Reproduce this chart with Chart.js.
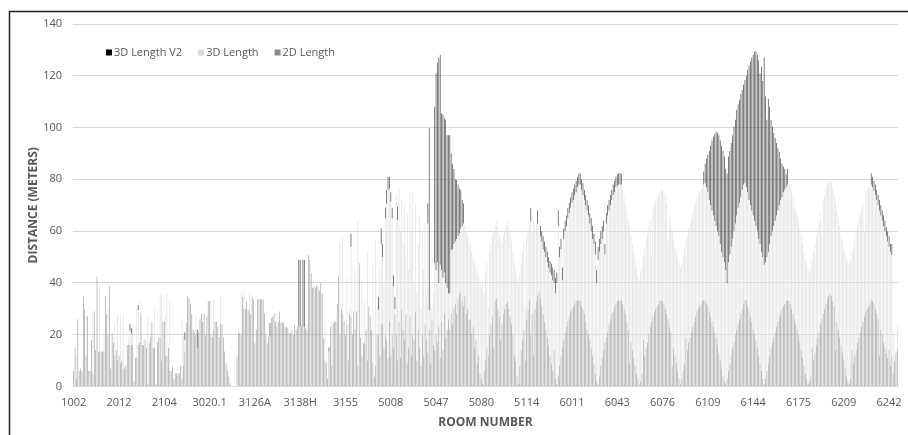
<!DOCTYPE html>
<html>
<head>
<meta charset="utf-8">
<script src="https://cdn.jsdelivr.net/npm/chart.js@4.4.1/dist/chart.umd.min.js"></script>
<style>
  html, body { margin: 0; padding: 0; background: #fff; }
  #wrap { width: 908px; height: 435px; }
</style>
</head>
<body>
<div id="wrap"><canvas id="chart" width="908" height="435"></canvas></div>
<script>
const _ = null;

// Room numbers printed under the axis (one every 33 rooms)
const roomTicks = ['1002','2012','2104','3020.1','3126A','3138H','3155','5008','5047','5080',
                   '5114','6011','6043','6076','6109','6144','6175','6209','6242'];
const tickEvery = 33;

// 2D Length per room (m), one line per 33 rooms
const length2D = [
  6,15,3,26,6,7,6,35,30,12,27,6,6,18,5,29,14,42.5,13.5,13.5,13.5,13.5,13.5,35,28,20,38.6,7,20.6,17,12,14,10,
  12,9,10,7,7,8,16,16,16,16,16,2,11,11,16,17,28,16,16,18,15,1,17,19,25,15,15,1,17,19,19,10,25,
  25,12,12,15,6,6,8,3,5,5,5,5,8,3,8,13.5,24.5,35,34,32,28,22,21,20,15,21,26,28,25,28,20,27,33,
  33,20,19,22,25,25,23,19,24,24,19,13.5,9,6.4,4,1.3,0,0,0,0,11.6,21,20.6,20,34.7,30,30,32.8,29.6,29,28,34.7,33.5,
  16.7,22,33.7,33.7,33.7,33.7,33.7,28.3,20,16.7,19,19,26.4,27,28.3,25,23,25,29,24.5,25,24.5,23,23,22.5,20.6,20.6,21.8,20,23.8,22,23.2,23.2,
  23.2,23,23,23,22.5,22,50.8,48.9,43.8,38,38.6,38,39,38.6,37,40,36,18.7,10,9,3,13.5,23,8,24.5,25,25,32,42.5,20,30,28,25,
  20,24,10,28,27,20,29,22,29,8,47.6,19,12,16.7,16.7,21.8,10,31,27,21.8,9,3.8,8,20,20,12,24,24.4,15,20,18,11,25,
  12,20,15,28,20,10,25,11,30,22,18,28,9,15,27,12,20,18,29,10,22,15,8,20,12,24,18,13,22,9,26,16,14,
  20,17,23,11,25,14,28,19,22,26,22,28,24,30,32,28,34,36,36.6,33,31,35,28,30,25.7,26,20.5,23,15,18,9,12,5,
  3,1,6,10,15,12,20,24,27,15,33,34,30,27,18,24,28,30,32,32.8,30,27,24,20,12,10,4,1,8,14,18,22,10,
  26,30,33.4,20,28,12,30,33,35,36.6,34,31,28,25,22,19,16,12,9,6,14,3,1,4,8,12,15,18,21,23,25,27,29,
  30,31,32,33,33,33.4,33,31,30,28,25,22,20,18,15,12,9,5,2,1,4,8,11,14,17,19,21,24,26,28,29,31,32,
  33,33.4,33,33.4,32,30,28,25,22,9,17,14,11,8,5,3,1,2,5,18,12,15,17,20,23,25,27,29,30,31,32,33,33.4,
  33,32,30,28,26,23,21,8,15,12,9,6,3,1,3,6,9,19,14,17,19,21,23,25,27,29,30,31,32,33,33.4,33,32,
  31,29,27,25,23,21,19,16,13,10,7,4,2,1,3,6,9,12,15,17,20,22,24,26,28,30,32,33.4,33,31,29,27,25,
  22,20,18,15,12,9,6,3,1,3,6,9,12,15,17,19,21,23,25,27,28,30,31,32,33,33.4,33,32,30,28,26,24,22,
  20,17,14,11,8,5,3,1,2,4,15,10,13,16,19,21,24,26,28,30,32,34,35,36,35,33,31,14,25,22,19,16,13,
  10,7,4,2,1,3,14,9,12,14,17,19,21,23,25,27,29,30,31,32,33.4,33,32,30,28,26,12,22,20,17,15,13,11,
  14,8,12,5,10,13,15
];

// 3D Length per room (m)
const length3D = [
  6,15,12,26,6,7,6,35,30,27,27,6,6,18,29,29,14,42.5,13.5,39,13.5,13.5,22,35,28,30,38.6,7,20.6,17,24,14,27.7,
  12,27,10,28,7,8,16,19,21.5,20.5,24.5,2,11,30,29.5,17,33,16,16,18,15,27,17,19,25,15,30,1,17,19,35,36,25,
  25,28,36,15,33,6,8,3,5,5,5,5,8,26,20.5,18,24.5,35,34,32,28,22,21,27,15,21,26,28,25,28,20,27,33,
  33,33,19,33,25,25,23,19,35,24,19,13.5,9,6.4,4,1.3,0,0,0,0,11.6,21,20.6,36.7,34.7,36.7,30,32.8,29.6,36,28,34.7,33.5,
  16.7,22,33.7,33.7,33.7,33.7,33.7,28.3,20,16.7,19,19,26.4,27,28.3,25,28.3,25,29,24.5,25,24.5,23,23,22.5,20.6,20.6,21.8,20,23.8,22,23.2,23.2,
  23.2,24,23,23,22.5,24,50.8,48.9,43.8,38,38.6,38,39,38.6,37,40,36,18.7,23,10,3,13.5,23,24,24.5,25,25,32,42.5,55.3,30,58,25,
  20,43,24,30,54,20,29,45,29,64,47.6,19,40,16.7,33,21.8,52,31,27,21.8,48,3.8,56,31,29.6,45,55,50,40,65,70.7,76,76.5,
  71.4,65,38.6,30,74,64.3,76.5,60,72,55,70,50,67,45,74.6,60,74.6,40,70,36,55,66,30,60,45,63,35,63,29.5,40,30,36,47.6,
  45,48,40,47,45,42,44,40,38,36,36,52.7,53,55,56,57,58,59,61,62,63,62,60,58,56,55,52,50,48,46,44,42,40,
  38,40,36,44,48,30,52,55,58,60,62,64,62,59,56,55,58,60,62,64,62,59,56,52,48,45,42,40,44,48,52,55,30,
  58,61,63,63.7,60,64,62,63,63,64,58,56,53,52,50,48,46,44,43,41,40,36,40,62,50,53,41,57,60,62,65,67,69,
  71,72,74,75,77,78,78,76,74,72,70,68,66,63,60,57,55,51,40,49,52,55,57,60,51,63,66,68,70,72,74,75,77,
  77.5,78,78,78,76,73,70,67,64,62,58,55,52,49,46,43,41,44,46,50,53,56,59,62,64,50,68,70,72,73,74,75,76,
  76,75,73,71,56,65,62,60,57,54,52,50,48,46,47,50,53,56,58,61,63,65,67,69,71,73,74,75,76,77,78,78.5,77,
  75,72,70,68,66,64,62,60,58,55,52,50,48,45,40,48,51,54,57,60,63,66,69,71,73,76,78,78.5,77,75,72,70,68,
  66,64,62,60,57,55,52,50,47,48,50,52,55,58,60,62,64,66,68,70,72,73,75,76,77,78,78,77,75,73,70,68,66,
  64,61,58,55,52,49,47,45,43.7,46,49,52,55,58,61,64,67,58,72,74,76,78,79,79.8,79,77,74,71,68,65,62,59,56,
  53,51,49,48,47.6,49,52,54,57,60,62,65,67,69,71,60,75,76,77,78,78,77,75.5,74,72,70,68,66,64,62,60,58,56,
  54,52,50.8,20,12,14,24
];

// 3D Length V2 per room (m), only where it was measured
const length3DV2 = [
  _,_,_,_,_,_,_,_,_,_, _,_,_,_,_,_,_,_,_,_, _,_,_,_,_,_,_,_,_,_, _,_,_,
  _,_,_,_,_,_,_,_,24,22.5, _,_,_,_,31.5,_,_,_,_,_, _,_,_,_,_,_,_,_,_,_, _,_,_,
  _,_,_,_,_,_,_,_,_,_, _,_,_,_,_,21,_,_,_,_, _,_,_,_,22,_,_,_,_,_, _,_,_,
  _,_,_,_,_,_,_,_,_,_, _,_,_,_,_,_,_,_,_,_, _,_,_,_,_,_,_,_,_,_, _,_,_,
  _,_,_,_,_,_,_,_,_,_, _,24.5,_,_,_,_,_,_,_,_, _,_,_,_,_,_,_,_,_,_, _,_,49,
  49,_,49,49,_,_,_,_,_,_, _,_,_,_,_,_,_,_,_,_, _,15.2,_,_,_,_,_,_,_,_, _,_,_,
  _,_,_,_,59,_,_,_,_,_, _,_,_,_,_,_,_,_,_,_, _,_,_,_,34.7,_,61,55,_,69, 76,81,81,
  75,69,43,34.7,_,69.5,_,_,_,_, _,_,_,_,_,_,_,_,_,_, _,_,_,_,_,_,_,70.7,99.7,_, _,_,108,
  121,125,127,128,105.5,105,103.6,103,97,97, 97,90,86,84,80,79.8,78,76.5,76,72, 70.7,_,_,_,_,_,_,_,_,_, _,_,_,
  _,_,_,_,_,_,_,_,_,_, _,_,_,_,_,_,_,_,_,_, _,_,_,_,_,_,_,_,_,_, _,_,_,
  _,_,_,68.8,_,_,_,_,68,_, 62,60,58,56,54,52,50,48.5,47.5,46, 45,42,44,68,54,57,46,61,64,66, 69,71,73,
  75,76.5,78,79.5,81,82.3,82.3,80,78.5,76, 74,72,70,67,65,62,59,56,45,54, 57,60,62,64,55,67,70,72,74,76, 78,79.5,81,
  82,82.3,82.5,82,_,_,_,_,_,_, _,_,_,_,_,_,_,_,_,_, _,_,_,_,_,_,_,_,_,_, _,_,_,
  _,_,_,_,_,_,_,_,_,_, _,_,_,_,_,_,_,_,_,_, _,_,_,_,_,_,_,_,_,_, 83,86,88,
  89.4,91,93,95,96.5,97.5,98.4,98,97,95, 93,91,88.8,84,82.3,88.8,91,94,97,100.4, 103,106.8,109,110.7,113,114.5,116.5,118.4,120,122.3, 124,125.5,127,
  128,129.3,129.5,128,126,121,123.5,118,127,112, 103,111,108,103,100.4,98,96,94,92,90.7, 88,86,85,84,82,84,_,_,_,_, _,_,_,
  _,_,_,_,_,_,_,_,_,_, _,_,_,_,_,_,_,_,_,_, _,_,_,_,_,_,_,_,_,_, _,_,_,
  _,_,_,_,_,_,_,_,_,_, _,_,_,_,_,_,_,_,_,_, 82.3,81,79.5,78,76,74,72,70,68,66, 64,61.5,60,
  58,55,55,_,_,_,_
];

const seriesNames  = ['3D Length V2', '3D Length', '2D Length'];
// Column fills (hairline columns) and the solid legend swatches
const seriesColors = ['#474747', '#e0e0e0', '#a3a3a3'];
const swatchColors = ['#000000', '#d9d9d9', '#8c8c8c'];
const textColor = '#595959';
const uiFont = 'Open Sans';

// Category labels: room number shown every `tickEvery` rooms, blank otherwise
const rooms = length2D.map((v, i) => (i % tickEvery === 0 ? (roomTicks[i / tickEvery] || '') : ''));

// Each longer measure is drawn as the part rising above the shorter one,
// so the three columns of a room sit one above the other without overlap.
const span3D = length3D.map((v, i) => (v == null ? null : [length2D[i] || 0, v]));
const spanV2 = length3DV2.map((v, i) => (v == null ? null : [length3D[i] || 0, v]));

// Chart frame (top/left rule) and the in-plot legend row
const frameAndLegend = {
  id: 'frameAndLegend',
  afterDraw(chart) {
    const c = chart.ctx;
    c.save();
    c.strokeStyle = '#1f1f1f';
    c.lineWidth = 1.5;
    c.beginPath();
    c.moveTo(9.5, 435);
    c.lineTo(9.5, 11.5);
    c.lineTo(908, 11.5);
    c.stroke();

    c.font = '11px "' + uiFont + '"';
    c.textBaseline = 'middle';
    c.textAlign = 'left';
    let x = 106;
    const y = 52.5;
    chart.data.datasets.forEach((ds, k) => {
      c.fillStyle = swatchColors[k];
      c.fillRect(x, y - 3, 6, 6);
      x += 8;
      c.fillStyle = textColor;
      c.fillText(ds.label, x, y);
      x += c.measureText(ds.label).width + 16;
    });
    c.restore();
  }
};

new Chart(document.getElementById('chart').getContext('2d'), {
  type: 'bar',
  data: {
    labels: rooms,
    datasets: [
      { label: seriesNames[0], data: spanV2,   backgroundColor: seriesColors[0] },
      { label: seriesNames[1], data: span3D,   backgroundColor: seriesColors[1] },
      { label: seriesNames[2], data: length2D, backgroundColor: seriesColors[2] }
    ]
  },
  options: {
    responsive: false,
    animation: false,
    events: [],
    layout: { padding: { left: 0, right: 10, top: 24, bottom: 0 } },
    datasets: {
      bar: { grouped: false, categoryPercentage: 0.5, barPercentage: 1, borderWidth: 0, borderSkipped: false }
    },
    plugins: {
      legend: { display: false },
      tooltip: { enabled: false }
    },
    scales: {
      x: {
        grid: { display: false, drawTicks: false },
        border: { display: true, color: '#d9d9d9' },
        ticks: {
          autoSkip: false, maxRotation: 0, minRotation: 0, padding: 10,
          color: textColor, font: { family: uiFont, size: 11 }
        },
        title: {
          display: true, text: 'ROOM NUMBER', color: textColor,
          font: { family: uiFont, size: 12, weight: 'bold' },
          padding: { top: 0, bottom: 5 }
        },
        afterFit: (s) => { s.height = 48.5; }
      },
      y: {
        min: 0, max: 140,
        grid: { color: '#d9d9d9', drawTicks: false },
        border: { display: false },
        ticks: {
          stepSize: 20, padding: 11,
          color: textColor, font: { family: uiFont, size: 11 }
        },
        title: {
          display: true, text: 'DISTANCE (METERS)', color: textColor,
          font: { family: uiFont, size: 12, weight: 'bold' },
          padding: { top: 26, bottom: 0 }
        },
        afterFit: (s) => { s.width = 73; }
      }
    }
  },
  plugins: [frameAndLegend]
});
</script>
</body>
</html>
